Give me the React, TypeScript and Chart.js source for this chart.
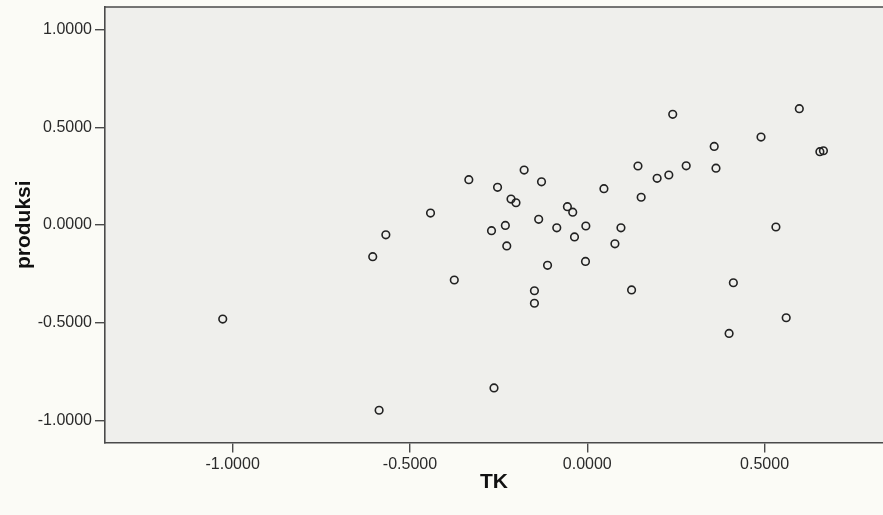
import React, { useEffect, useRef } from "react";
import { Chart, registerables } from "chart.js";

Chart.register(...registerables);

const xLabel = "TK";
const yLabel = "produksi";

const xTickValues = [-1.0, -0.5, 0.0, 0.5];
const yTickValues = [-1.0, -0.5, 0.0, 0.5, 1.0];

const tkValues = [
  -1.028, -0.334, -0.178, -0.129, -0.253, -0.215, -0.201, -0.442, -0.568, -0.605,
  -0.056, -0.041, -0.137, -0.086, -0.004, -0.231, -0.270, -0.036, -0.227, -0.005,
  -0.112, -0.375, -0.149, -0.149, -0.263, -0.587, 0.241, 0.598, 0.490, 0.358,
  0.656, 0.666, 0.143, 0.279, 0.363, 0.197, 0.230, 0.047, 0.152, 0.095,
  0.078, 0.532, 0.125, 0.412, 0.561, 0.400,
];

const produksiValues = [
  -0.481, 0.232, 0.281, 0.221, 0.193, 0.133, 0.114, 0.061, -0.050, -0.162,
  0.094, 0.066, 0.029, -0.014, -0.005, -0.002, -0.029, -0.061, -0.107, -0.186,
  -0.206, -0.281, -0.336, -0.400, -0.833, -0.947, 0.566, 0.595, 0.450, 0.402,
  0.375, 0.380, 0.302, 0.303, 0.291, 0.239, 0.256, 0.186, 0.142, -0.014,
  -0.096, -0.010, -0.332, -0.295, -0.474, -0.554,
];

const backgroundPlugin = {
  id: "bgFrame",
  beforeDraw(chart: any) {
    const { ctx, chartArea } = chart;
    ctx.save();
    ctx.fillStyle = "#fbfbf6";
    ctx.fillRect(0, 0, chart.width, chart.height);
    ctx.fillStyle = "#efefec";
    ctx.fillRect(chartArea.left, chartArea.top, chartArea.right - chartArea.left, chartArea.bottom - chartArea.top);
    ctx.restore();
  },
  afterDraw(chart: any) {
    const { ctx, chartArea } = chart;
    ctx.save();
    ctx.strokeStyle = "#4a4a4a";
    ctx.lineWidth = 1.6;
    ctx.beginPath();
    ctx.moveTo(chartArea.left, chartArea.top);
    ctx.lineTo(chartArea.right, chartArea.top);
    ctx.stroke();
    ctx.restore();
  },
};

export default function App() {
  const ref = useRef<HTMLCanvasElement | null>(null);

  useEffect(() => {
    if (!ref.current) return;
    const points = tkValues.map((x, i) => ({ x, y: produksiValues[i] }));
    const tickFont = { family: "'Liberation Sans', Arial, sans-serif", size: 16 };
    const titleFont = { family: "'Liberation Sans', Arial, sans-serif", size: 21, weight: "bold" as const };
    const chart = new Chart(ref.current, {
      type: "scatter",
      data: {
        datasets: [
          {
            data: points,
            pointStyle: "circle",
            pointRadius: 3.8,
            pointBorderWidth: 1.6,
            pointBorderColor: "#222222",
            pointBackgroundColor: "rgba(0,0,0,0)",
            pointHoverRadius: 3.8,
          },
        ],
      },
      options: {
        animation: false,
        responsive: false,
        devicePixelRatio: 1,
        layout: { autoPadding: false, padding: { left: 0, right: 0, top: 7, bottom: 0 } },
        plugins: { legend: { display: false }, tooltip: { enabled: false } },
        scales: {
          x: {
            type: "linear",
            min: -1.36,
            max: 0.834,
            afterBuildTicks: (scale: any) => {
              scale.ticks = xTickValues.map((v) => ({ value: v }));
            },
            afterFit: (scale: any) => {
              scale.height = 72.5;
              scale.paddingLeft = 0;
              scale.paddingRight = 0;
            },
            grid: { drawOnChartArea: false, drawTicks: true, tickLength: 10, color: "#4a4a4a", lineWidth: 1.4 },
            border: { display: true, color: "#4a4a4a", width: 1.6 },
            ticks: {
              padding: 2,
              color: "#2a2a2a",
              font: tickFont,
              maxRotation: 0,
              callback: (v: any) => Number(v).toFixed(4),
            },
            title: { display: true, text: xLabel, color: "#111111", font: titleFont, padding: 20 },
          },
          y: {
            type: "linear",
            min: -1.112,
            max: 1.115,
            afterBuildTicks: (scale: any) => {
              scale.ticks = yTickValues.map((v) => ({ value: v }));
            },
            afterFit: (scale: any) => {
              scale.width = 105;
              scale.paddingTop = 0;
              scale.paddingBottom = 0;
            },
            grid: { drawOnChartArea: false, drawTicks: true, tickLength: 10, color: "#4a4a4a", lineWidth: 1.4 },
            border: { display: true, color: "#4a4a4a", width: 1.6 },
            ticks: {
              padding: 3,
              color: "#2a2a2a",
              font: tickFont,
              callback: (v: any) => Number(v).toFixed(4),
            },
            title: { display: true, text: yLabel, color: "#111111", font: titleFont, padding: 12 },
          },
        },
      },
      plugins: [backgroundPlugin],
    });
    return () => chart.destroy();
  }, []);

  return (
    <div style={{ position: "fixed", left: 0, top: 0, width: 883, height: 515, background: "#fbfbf6" }}>
      <canvas ref={ref} width={883} height={515} style={{ display: "block", width: 883, height: 515 }} />
    </div>
  );
}
